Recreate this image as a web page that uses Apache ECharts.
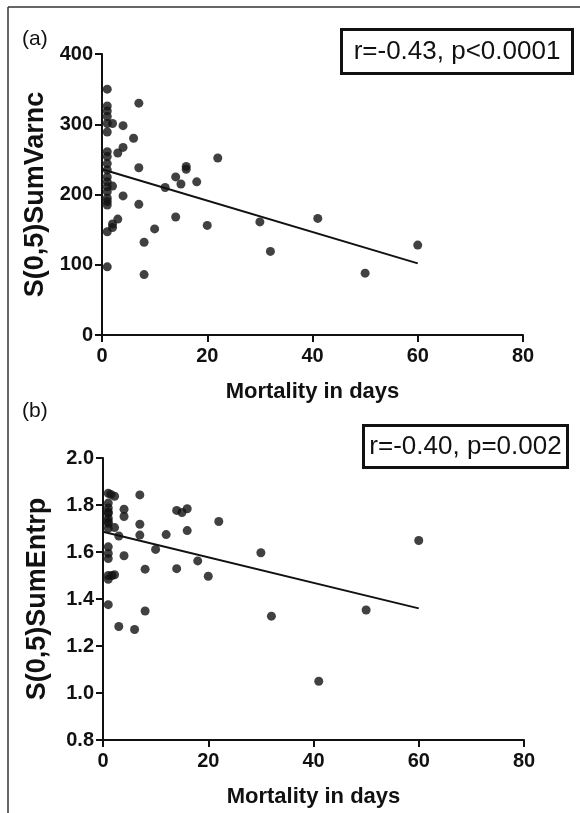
<!DOCTYPE html>
<html>
<head>
<meta charset="utf-8">
<script src="https://cdn.jsdelivr.net/npm/echarts@6/dist/echarts.min.js"></script>
<style>
  html, body { margin: 0; padding: 0; background: #fff; }
  #chart { width: 580px; height: 813px; }
</style>
</head>
<body>
<div id="chart"></div>
<script>
// Panel (a): S(0,5)SumVarnc against mortality in days
const mortalityA = [1, 7, 1, 1, 1, 1, 2, 1, 4, 6, 4, 3, 1, 1, 1, 7, 22, 16, 16, 14, 15, 18, 12,
  1, 1, 1, 1, 1, 1, 1, 1, 2, 4, 7, 14, 20, 10, 3, 2, 2, 1, 8, 1, 8, 30, 32, 41, 50, 60];
const sumVarnc = [350, 330, 326, 319, 311, 301, 301, 289, 298, 280, 267, 259, 261, 254, 244, 238, 252, 240, 236, 225, 215, 218, 210,
  235, 225, 218, 211, 204, 195, 190, 185, 212, 198, 186, 168, 156, 151, 165, 158, 153, 147, 132, 97, 86, 161, 119, 166, 88, 128];
const fitA = [[0, 236], [60, 102]];
const statsA = 'r=-0.43, p<0.0001';

// Panel (b): S(0,5)SumEntrp against mortality in days
const mortalityB = [1, 1.5, 2.2, 7, 1, 1, 1, 1, 1, 1, 2.2, 4, 4, 7, 7, 3, 12, 14, 15, 16, 16, 22, 10,
  1, 1, 1, 4, 18, 8, 14, 20, 1, 1, 1.7, 2.2, 1, 8, 3, 6, 30, 32, 41, 50, 60, 1, 1];
const sumEntrp = [1.85, 1.845, 1.837, 1.843, 1.808, 1.787, 1.765, 1.744, 1.722, 1.701, 1.704, 1.782, 1.751, 1.718, 1.672, 1.668, 1.674, 1.777, 1.768, 1.784, 1.691, 1.73, 1.611,
  1.622, 1.594, 1.572, 1.584, 1.562, 1.527, 1.529, 1.497, 1.5, 1.484, 1.5, 1.503, 1.376, 1.349, 1.283, 1.27, 1.597, 1.327, 1.05, 1.353, 1.649, 1.73, 1.77];
const fitB = [[0, 1.686], [60, 1.36]];
const statsB = 'r=-0.40, p=0.002';

const xTitle = 'Mortality in days';
const yTitleA = 'S(0,5)SumVarnc';
const yTitleB = 'S(0,5)SumEntrp';

const FONT = '"Liberation Sans", Arial, Helvetica, sans-serif';
const INK = '#111';

function pairs(xs, ys) { return xs.map((x, i) => [x, ys[i]]); }

const axisLine = { show: true, lineStyle: { color: INK, width: 2 } };
const axisTick = { show: true, length: 7, inside: false, lineStyle: { color: INK, width: 2 } };
const tickLabel = { color: INK, fontFamily: FONT, fontWeight: 'bold', fontSize: 20 };

function xAxis(gridIndex) {
  return {
    type: 'value', gridIndex, min: 0, max: 80, interval: 20,
    axisLine, axisTick, splitLine: { show: false },
    axisLabel: Object.assign({ margin: 11 }, tickLabel),
    name: xTitle, nameLocation: 'middle', nameGap: 46,
    nameTextStyle: { color: INK, fontFamily: FONT, fontWeight: 'bold', fontSize: 22 }
  };
}

function yAxis(gridIndex, min, max, interval, name, digits) {
  return {
    type: 'value', gridIndex, min, max, interval,
    axisLine, axisTick, splitLine: { show: false },
    axisLabel: Object.assign({ margin: 9, formatter: v => v.toFixed(digits) }, tickLabel),
    name, nameLocation: 'middle', nameGap: 52, nameRotate: 90,
    nameTextStyle: { color: INK, fontFamily: FONT, fontWeight: 'bold', fontSize: 27 }
  };
}

function scatter(i, data) {
  return {
    type: 'scatter', xAxisIndex: i, yAxisIndex: i, data,
    symbol: 'circle', symbolSize: 9, itemStyle: { color: INK }, silent: true, z: 3
  };
}

function fitLine(i, data) {
  return {
    type: 'line', xAxisIndex: i, yAxisIndex: i, data,
    symbol: 'none', lineStyle: { color: INK, width: 2 }, silent: true, z: 2
  };
}

function statBox(left, top, width, height, text) {
  return {
    type: 'group', left, top,
    children: [
      { type: 'rect', shape: { x: 0, y: 0, width, height },
        style: { fill: '#fff', stroke: INK, lineWidth: 3 } },
      { type: 'text', x: width / 2, y: height / 2,
        style: { text, fill: INK, font: '26px ' + FONT, align: 'center', verticalAlign: 'middle' } }
    ]
  };
}

const chart = echarts.init(document.getElementById('chart'), null, { renderer: 'canvas' });
chart.setOption({
  animation: false,
  backgroundColor: '#fff',
  grid: [
    { left: 102, top: 54, width: 421, height: 281 },
    { left: 103, top: 458, width: 421, height: 282 }
  ],
  xAxis: [xAxis(0), xAxis(1)],
  yAxis: [
    yAxis(0, 0, 400, 100, yTitleA, 0),
    yAxis(1, 0.8, 2.0, 0.2, yTitleB, 1)
  ],
  series: [
    fitLine(0, fitA), scatter(0, pairs(mortalityA, sumVarnc)),
    fitLine(1, fitB), scatter(1, pairs(mortalityB, sumEntrp))
  ],
  graphic: [
    // frame edges along the top and left
    { type: 'line', shape: { x1: 8, y1: 7, x2: 580, y2: 7 }, style: { stroke: '#333', lineWidth: 1.5 } },
    { type: 'line', shape: { x1: 8, y1: 7, x2: 8, y2: 813 }, style: { stroke: '#333', lineWidth: 1.5 } },
    { type: 'text', left: 22, top: 29, style: { text: '(a)', fill: INK, font: '21px ' + FONT } },
    { type: 'text', left: 22, top: 401, style: { text: '(b)', fill: INK, font: '21px ' + FONT } },
    statBox(340, 28, 231, 44, statsA),
    statBox(362, 424, 204, 42, statsB)
  ]
});
</script>
</body>
</html>
